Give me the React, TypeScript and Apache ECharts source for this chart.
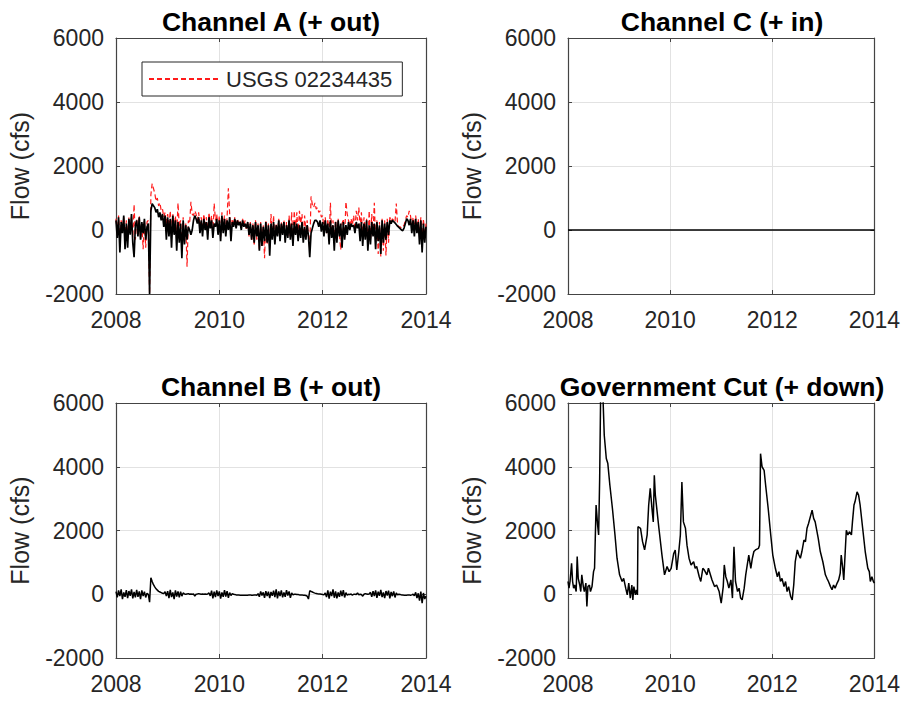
import { useEffect, useRef } from "react";
import * as echarts from "echarts";

// Daily-ish flow records, resampled every 0.025 yr starting at 2008.0
const START_YEAR = 2008;
const STEP_YEARS = 0.025;

// Channel A, modelled flow (cfs)
const channelAModel = [
  300, -250, 400, -700, 250, -100, 450, -600, 200, -550,
  350, -150, 500, -400, -850, 150, 300, -200, 400, -300,
  250, -100, 350, -300, 100, 200, -2000, 600, 820, 760,
  700, 550, 650, 400, 550, 300, 500, 100, 450, -300,
  400, -200, 350, -550, 450, -150, 300, -650, 250, -400,
  200, -880, 300, -450, 150, -300, 100, 0, -150, 0,
  300, 450, 350, 200, 400, -100, 300, -200, 350, 0,
  250, -300, 400, 50, 300, -250, 200, 100, 350, -150,
  300, -350, 450, -100, 350, -200, 300, 0, 400, -350,
  250, 100, 350, 50, 300, 150, 250, 0, 300, 100,
  200, 50, 250, -150, 200, -300, 150, -400, 250, -200,
  150, -650, 200, -500, 100, -350, 250, -400, 150, -800,
  200, -300, 250, -450, 150, -200, 300, -350, 200, -150,
  250, -400, 150, -250, 300, -300, 200, -500, 250, -150,
  200, -350, 150, -250, 250, -400, 100, -300, 150, -200,
  -850, -100, 50, 200, 300, 300, 250, 100, 300, -50,
  250, -200, 300, -100, 200, -450, 300, -250, 150, -650,
  250, -400, 300, -200, 200, -550, 250, -300, 150, -150,
  250, 0, 200, 100, 150, -100, 250, 50, 200, -350,
  250, -500, 200, -300, 300, -650, 150, -450, 250, -200,
  200, -600, 250, -350, 150, -750, 300, -400, 200, -300,
  250, -150, 300, 200, 300, 260, 220, 170, 120, 80,
  40, 0, -20, 60, 200, 350, 300, 150, 350, -100,
  300, -200, 350, -100, 250, -450, 300, -700, 200, -400,
  100,
];

// Channel A, USGS 02234435 gauge (cfs)
const channelAUsgs = [
  350, -150, 450, -350, 300, 0, 400, -200, 300, -300,
  400, -100, 450, -250, 800, -300, 350, -100, 450, -300,
  200, -600, 300, -550, 250, 300, -2000, 1100, 1450, 1300,
  1150, 900, 1000, 750, 850, 600, 650, 400, 550, 200,
  500, 100, 600, -100, 500, 0, 450, -200, 850, 100,
  300, -500, 400, -300, 200, -1150, 300, 200, 880, 500,
  450, 600, 500, 300, 550, 100, 400, 0, 500, 150,
  400, -100, 550, 150, 450, -150, 830, 300, 500, 0,
  450, -200, 550, 100, 450, -100, 400, 1300, 500, -100,
  350, 150, 400, 100, 350, 200, 300, 50, 350, 150,
  300, 0, 250, -200, 250, -350, 200, -500, 300, -300,
  200, -650, 250, -500, 150, -880, 300, -450, 200, -600,
  500, -250, 450, -400, 200, -150, 350, -300, 250, -100,
  300, -300, 250, -200, 450, -250, 550, -400, 600, 0,
  550, -150, 600, 200, 500, -300, 450, 0, 300, -200,
  -600, 1050, 800, 700, 850, 650, 700, 550, 600, 400,
  450, 0, 400, -100, 350, -300, 850, -200, 300, -400,
  300, -200, 350, -150, -620, 200, 350, -250, 880, 500,
  300, 100, 350, 150, 450, 0, 600, 300, 700, 100,
  550, -300, 400, -200, 350, -500, 600, -350, 500, -100,
  850, -400, 300, -750, 250, -830, 350, -650, 300, -800,
  350, -400, 400, 250, 350, 300, 250, 830, 150, 100,
  100, 50, 100, 150, 300, 450, 400, 600, 450, 100,
  400, 0, 450, 50, 350, -200, 400, -400, 350, -200,
  200,
];

// Channel B, modelled flow (cfs)
const channelBModel = [
  80, -100, 120, -60, 150, -150, 60, -80, 130, -120,
  100, -50, 150, -130, 70, -100, 140, -80, 90, -150,
  120, -60, 80, -100, 30, 0, -250, 520, 400, 300,
  230, 170, 130, 90, 70, 50, 30, 20, 80, -60,
  100, -120, 140, -90, 60, -150, 120, -70, 90, -100,
  80, -60, 40, 10, 0, 10, 20, 0, 10, 0,
  10, -60, 0, 10, 20, 10, 0, 10, 0, 10,
  0, 10, 40, -50, 110, -130, 80, -90, 120, -60,
  90, -140, 60, -80, 130, -70, 100, -110, 50, -40,
  20, 0, -10, -20, -20, -20, -30, -30, -30, -30,
  -30, -30, -30, -20, -20, -30, -30, -20, -20, -30,
  20, -80, 90, -40, 60, -110, 100, -60, 80, -120,
  70, -50, 110, -90, 150, -130, 90, -60, 120, -100,
  60, -80, 130, -40, 90, -110, 40, -20, 0, 0,
  -10, -10, -20, -20, -20, -30, -30, -40, -60, -150,
  110, 90, 70, 50, 35, 25, 15, 10, 5, 0,
  -10, -20, 40, -90, 120, -140, 80, -60, 150, -110,
  90, -130, 60, -80, 110, -60, 130, -100, 50, -30,
  0, -10, 10, -30, 0, 0, -10, 40, -20, 0,
  -10, -60, 0, 20, 10, 0, 10, 60, -80, 100,
  -60, 120, -110, 80, -50, 140, -90, 60, -120, 100,
  -40, 110, -130, 70, -60, 90, -100, 40, -20, 0,
  -10, -20, -20, -30, -30, -30, -20, -20, -30, -20,
  0, -50, 60, -120, 30, -200, 80, -280, 40, -150,
  -60,
];

// Channel C, modelled flow (cfs)
const channelCYears = [2008, 2014];
const channelCModel = [0, 0];

// Government Cut, modelled flow (cfs)
const govCutYears = [
  2008.0, 2008.02, 2008.04, 2008.07, 2008.09, 2008.11, 2008.13, 2008.16, 2008.18, 2008.2,
  2008.23, 2008.25, 2008.27, 2008.3, 2008.32, 2008.35, 2008.37, 2008.39, 2008.42, 2008.44,
  2008.47, 2008.5, 2008.52, 2008.55, 2008.58, 2008.6, 2008.62, 2008.64, 2008.68, 2008.71,
  2008.75, 2008.78, 2008.82, 2008.87, 2008.92, 2008.96, 2009.01, 2009.06, 2009.09, 2009.13,
  2009.16, 2009.19, 2009.22, 2009.25, 2009.27, 2009.29, 2009.32, 2009.34, 2009.36, 2009.37,
  2009.42, 2009.46, 2009.5, 2009.55, 2009.58, 2009.61, 2009.65, 2009.67, 2009.69, 2009.71,
  2009.78, 2009.84, 2009.89, 2009.94, 2009.98, 2010.02, 2010.07, 2010.1, 2010.13, 2010.17,
  2010.2, 2010.23, 2010.26, 2010.3, 2010.33, 2010.37, 2010.41, 2010.46, 2010.49, 2010.52,
  2010.57, 2010.6, 2010.64, 2010.67, 2010.72, 2010.75, 2010.82, 2010.87, 2010.91, 2010.96,
  2011.0, 2011.04, 2011.06, 2011.09, 2011.12, 2011.15, 2011.19, 2011.22, 2011.25, 2011.28,
  2011.32, 2011.35, 2011.38, 2011.41, 2011.45, 2011.48, 2011.51, 2011.54, 2011.58, 2011.61,
  2011.64, 2011.67, 2011.73, 2011.75, 2011.77, 2011.8, 2011.84, 2011.87, 2011.92, 2011.97,
  2012.01, 2012.06, 2012.1, 2012.13, 2012.16, 2012.19, 2012.23, 2012.26, 2012.29, 2012.32,
  2012.36, 2012.39, 2012.42, 2012.45, 2012.49, 2012.52, 2012.55, 2012.58, 2012.62, 2012.65,
  2012.68, 2012.71, 2012.78, 2012.81, 2012.84, 2012.9, 2012.94, 2012.99, 2013.04, 2013.07,
  2013.1, 2013.14, 2013.17, 2013.2, 2013.23, 2013.27, 2013.3, 2013.33, 2013.35, 2013.38,
  2013.4, 2013.43, 2013.45, 2013.48, 2013.51, 2013.55, 2013.57, 2013.6, 2013.62, 2013.66,
  2013.69, 2013.72, 2013.77, 2013.82, 2013.87, 2013.9, 2013.92, 2013.95, 2013.98, 2014.0,
];
const govCutFlow = [
  400, 190, 400, 970, 400, 190, 290, 85, 1180, 500,
  290, 85, 610, 240, 85, 350, -380, 240, 290, 85,
  240, 710, 815, 2800, 2170, 1860, 3630, 6400, 6400, 4990,
  4260, 4100, 3420, 2690, 1860, 1130, 610, 400, 500, 190,
  -20, 350, -120, 290, -175, 240, -20, 140, -20, 2120,
  2065, 1650, 1390, 1860, 2800, 3320, 2590, 2270, 3730, 3110,
  2070, 1230, 610, 870, 710, 815, 1280, 1390, 760, 1340,
  1860, 3520, 2270, 2070, 1540, 1130, 920, 1020, 815, 870,
  550, 400, 815, 760, 610, 815, 450, 240, 290, 85,
  -280, 240, 920, 550, 400, 190, 450, -120, 1490, 400,
  85, 190, -120, -175, 190, 610, 920, 1230, 815, 1130,
  1340, 1390, 1440, 1540, 4410, 4000, 3890, 3420, 2690, 1860,
  1230, 815, 550, 710, 400, 500, 240, 400, 85, 240,
  -70, -175, 290, 1020, 1390, 1230, 1130, 1340, 1700, 1650,
  2070, 2220, 2640, 2380, 2270, 1750, 1340, 1020, 610, 500,
  400, 240, 140, 290, 190, 350, 450, 660, 1230, 815,
  450, 1390, 2010, 1860, 1960, 1860, 2270, 2800, 2900, 3210,
  3110, 2800, 2070, 1340, 820, 710, 400, 550, 400, 350,
];

const flowTicks = { min: -2000, max: 6000, interval: 2000 };
const yearTicks = { min: 2008, max: 2014, interval: 2 };

const panelTitles = [
  "Channel A (+ out)",
  "Channel C (+ in)",
  "Channel B (+ out)",
  "Government Cut (+ down)",
];
const yAxisTitle = "Flow (cfs)";
const legendLabel = "USGS 02234435";

const FONT = "'Liberation Sans', Arial, Helvetica, sans-serif";
const TEXT_COLOR = "#262626";
const BOX_COLOR = "#444444";
const GRID_COLOR = "#e2e2e2";

const panels = [
  { left: 116, top: 38, width: 310, height: 256 },
  { left: 568, top: 38, width: 308, height: 256 },
  { left: 116, top: 403, width: 310, height: 255 },
  { left: 568, top: 403, width: 308, height: 255 },
];

const sampled = (values: number[]) =>
  values.map((v, i) => [+(START_YEAR + i * STEP_YEARS).toFixed(3), v]);
const paired = (xs: number[], ys: number[]) => xs.map((x, i) => [x, ys[i]]);

function buildOption() {
  const xAxis: any[] = [];
  const yAxis: any[] = [];
  panels.forEach((_, i) => {
    const line = { show: true, onZero: false, lineStyle: { color: BOX_COLOR, width: 1.2 } };
    const tick = { show: true, inside: true, length: 4, lineStyle: { color: BOX_COLOR, width: 1 } };
    const label = { fontSize: 23, color: TEXT_COLOR, fontFamily: FONT, formatter: (v: number) => String(v) };
    xAxis.push({
      type: "value", gridIndex: i, position: "bottom", ...yearTicks,
      axisLine: line, axisTick: tick,
      axisLabel: { ...label, margin: 14 },
      splitLine: { show: true, lineStyle: { color: GRID_COLOR, width: 1 } },
    });
    xAxis.push({
      type: "value", gridIndex: i, position: "top", ...yearTicks,
      axisLine: line, axisTick: tick, axisLabel: { show: false }, splitLine: { show: false },
    });
    yAxis.push({
      type: "value", gridIndex: i, position: "left", ...flowTicks,
      name: yAxisTitle, nameLocation: "middle", nameRotate: 90, nameGap: 84,
      nameTextStyle: { fontSize: 25, color: TEXT_COLOR, fontFamily: FONT },
      axisLine: line, axisTick: tick,
      axisLabel: { ...label, margin: 12 },
      splitLine: { show: true, lineStyle: { color: GRID_COLOR, width: 1 } },
    });
    yAxis.push({
      type: "value", gridIndex: i, position: "right", ...flowTicks,
      axisLine: line, axisTick: tick, axisLabel: { show: false }, splitLine: { show: false },
    });
  });

  const black = { color: "#000000", width: 1.5 };
  const series: any[] = [
    {
      name: legendLabel, type: "line", xAxisIndex: 0, yAxisIndex: 0,
      data: sampled(channelAUsgs), showSymbol: false, symbol: "none",
      lineStyle: { color: "#ff1a1a", width: 1.2, type: [5, 3] }, itemStyle: { color: "#ff1a1a" },
    },
    {
      name: "Channel A model", type: "line", xAxisIndex: 0, yAxisIndex: 0,
      data: sampled(channelAModel), symbol: "none",
      lineStyle: { color: "#000000", width: 1.7 }, itemStyle: { color: "#000" },
    },
    {
      name: "Channel C model", type: "line", xAxisIndex: 2, yAxisIndex: 2,
      data: paired(channelCYears, channelCModel), symbol: "none",
      lineStyle: { color: "#000000", width: 1.6 }, itemStyle: { color: "#000" },
    },
    {
      name: "Channel B model", type: "line", xAxisIndex: 4, yAxisIndex: 4,
      data: sampled(channelBModel), symbol: "none", lineStyle: black, itemStyle: { color: "#000" },
    },
    {
      name: "Government Cut model", type: "line", xAxisIndex: 6, yAxisIndex: 6,
      data: paired(govCutYears, govCutFlow), symbol: "none", lineStyle: black, itemStyle: { color: "#000" },
    },
  ];

  return {
    animation: false,
    backgroundColor: "#ffffff",
    textStyle: { fontFamily: FONT },
    title: panels.map((p, i) => ({
      text: panelTitles[i],
      left: p.left + p.width / 2,
      top: p.top - 30,
      textAlign: "center",
      padding: 0,
      textStyle: { fontSize: 26.5, fontWeight: "bold", color: "#000000", fontFamily: FONT },
    })),
    legend: {
      data: [legendLabel],
      left: 142, top: 62,
      padding: [6, 10, 6, 6],
      itemWidth: 72, itemHeight: 14,
      borderColor: "#262626", borderWidth: 1, borderRadius: 0,
      backgroundColor: "#ffffff",
      selectedMode: false,
      itemStyle: { opacity: 0 },
      textStyle: { fontSize: 22, color: TEXT_COLOR, fontFamily: FONT },
    },
    grid: panels.map((p) => ({ ...p, containLabel: false })),
    xAxis,
    yAxis,
    series,
  };
}

export default function App() {
  const ref = useRef<HTMLDivElement>(null);
  useEffect(() => {
    if (!ref.current) return;
    const chart = echarts.init(ref.current, undefined, { renderer: "svg" });
    chart.setOption(buildOption() as any);
    return () => chart.dispose();
  }, []);
  return (
    <div
      ref={ref}
      style={{ position: "absolute", left: 0, top: 0, width: 903, height: 701, background: "#ffffff" }}
    />
  );
}
